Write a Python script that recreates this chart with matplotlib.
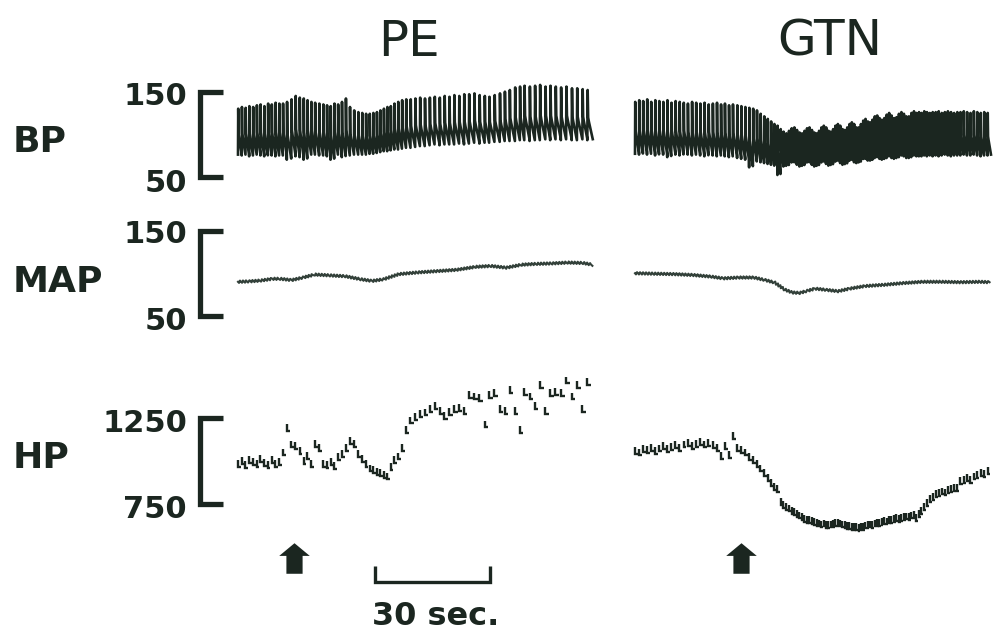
import numpy as np
import matplotlib
matplotlib.use("Agg")
import matplotlib.pyplot as plt
import matplotlib.transforms as mtransforms
from matplotlib.path import Path
from matplotlib.collections import LineCollection

# ---------------- data ----------------
PANELS = ["PE", "GTN"]
ROW_LABELS = ["BP", "MAP", "HP"]
BP_TICKS = [150, 50]      # mmHg
MAP_TICKS = [150, 50]     # mmHg
HP_TICKS = [1250, 750]    # ms
SCALE_SEC = 30
SCALE_LABEL = "30 sec."
SCALE_START_PE = 35.7     # s
ARROW_T = [14.6, 27.7]    # s, injection time PE / GTN

# heart period per beat (ms)
PE_HP = [967, 982, 958, 991, 977, 963, 996, 972, 958, 987, 967, 977,
         1033, 1179, 1080, 1071, 1043, 982, 1014, 967, 1085, 1061,
         967, 958, 977, 953, 1005, 1024, 1061, 1099, 1085, 1024, 996, 963,
         939, 930, 916, 911, 902, 892, 949, 991, 1010, 1061, 1165,
         1221, 1240, 1259, 1268, 1287, 1306, 1278, 1249, 1273,
         1287, 1296, 1278, 1372, 1362, 1353, 1198, 1372, 1381, 1287, 1278,
         1400, 1278, 1165, 1390, 1362, 1306, 1428, 1278, 1381, 1390, 1381,
         1456, 1362, 1428, 1287, 1447]
# systolic / diastolic pressure per beat (mmHg)
PE_SYS = [130, 132, 131, 133, 132, 134, 135, 133, 136, 135, 137, 136,
          136, 138, 141, 145, 143, 142, 140, 138, 137, 136,
          135, 134, 133, 136, 135, 138, 142, 132, 128, 126, 125, 124,
          124, 125, 126, 128, 130, 132, 133, 136, 138, 140, 141,
          141, 142, 143, 142, 143, 144, 143, 145, 144,
          146, 145, 147, 147, 148, 146, 145, 144, 146, 148, 150,
          152, 155, 156, 157, 156, 157, 158, 156, 157, 156, 155,
          156, 154, 154, 153, 152]
PE_DIA = [76, 75, 76, 74, 75, 76, 75, 74, 76, 75, 74, 75,
          75, 70, 75, 74, 73, 70, 75, 76, 76, 75,
          75, 74, 70, 75, 76, 73, 75, 75, 76, 76, 76, 76,
          77, 77, 78, 79, 80, 80, 81, 82, 82, 83, 84,
          84, 85, 86, 86, 87, 88, 87, 88, 88,
          88, 89, 88, 89, 90, 89, 90, 90, 91, 91, 92,
          92, 92, 93, 93, 92, 93, 93, 94, 93, 94, 93,
          94, 93, 93, 94, 93]

GTN_HP = [1043, 1033, 1052, 1047, 1061, 1043, 1057, 1071, 1052, 1066, 1076, 1061,
          1080, 1090, 1071, 1085, 1094, 1080, 1090, 1076, 1061, 1014, 1071, 1019,
          1132, 1061, 1047, 1033, 1005, 991,
          967, 939, 911, 883, 855, 831, 817,
          742, 723, 714, 704, 690, 681, 671, 662, 653, 643, 638, 634, 629,
          624, 620, 615, 610, 615, 608, 605, 610, 613, 620, 618, 615, 610, 605,
          601, 599, 596, 593, 596, 591, 593, 596,
          603, 605, 610, 608, 615, 620, 618, 624, 629, 627, 634, 638, 640, 646,
          643, 648, 653, 657, 655, 662, 667, 648,
          672, 690, 714, 737, 761, 770,
          789, 794, 803, 798, 812, 817, 826, 822,
          864, 869, 883, 873, 892, 902, 911, 906, 925]
GTN_SYS = [138, 140, 139, 141, 138, 140, 139, 138, 140, 137, 139, 138,
           137, 136, 138, 137, 136, 137, 135, 136, 137, 135, 136, 134,
           135, 134, 133, 132, 131, 130,
           128, 124, 121, 118, 115, 112, 110,
           106, 103, 101, 104, 107, 108, 105, 102, 101, 104, 107, 108, 105,
           102, 101, 104, 108, 110, 108, 104, 103, 106, 110, 112, 110, 106, 105,
           108, 112, 114, 112, 108, 108, 112, 116,
           118, 115, 114, 117, 121, 122, 119, 117, 119, 123, 125, 122, 119, 120,
           124, 126, 124, 121, 121, 125, 127, 125,
           126, 125, 127, 126, 125, 126,
           126, 127, 125, 126, 127, 126, 125, 126,
           126, 127, 126, 125, 127, 126, 125, 126, 125]
GTN_DIA = [77, 76, 78, 76, 77, 75, 77, 76, 73, 77, 76, 75,
           77, 76, 75, 76, 75, 74, 76, 75, 74, 75, 74, 73,
           74, 72, 71, 70, 61, 69,
           68, 67, 66, 65, 64, 63, 52,
           64, 62, 63, 66, 68, 67, 64, 62, 63, 66, 68, 67, 64,
           62, 63, 66, 68, 68, 65, 63, 64, 67, 69, 69, 66, 64, 65,
           68, 70, 70, 67, 66, 67, 70, 72,
           71, 69, 69, 71, 73, 73, 71, 70, 71, 73, 74, 72, 71, 72,
           74, 75, 74, 72, 72, 74, 75, 74,
           74, 74, 75, 74, 75, 74,
           75, 74, 75, 76, 75, 74, 75, 75,
           75, 76, 75, 75, 76, 75, 74, 75, 75]

# mean arterial pressure trace (time s, mmHg)
PE_MAP_T = [0, 3, 6, 9, 11, 14, 17, 20, 24, 28, 32, 35, 38, 42, 47, 52, 57,
            62, 66, 70, 74, 78, 82, 86, 90, 92.5]
PE_MAP = [90, 90.5, 91.5, 93.5, 93.5, 92, 95, 98.5, 97.5, 96.5, 93, 91, 93,
          99, 101, 102.5, 104, 107.5, 108.5, 106.5, 110, 111, 111.5, 112.5, 112, 110]
GTN_MAP_T = [0, 5, 10, 15, 20, 23, 27, 31, 34, 36.5, 39, 41, 43, 45, 47, 50,
             53, 56, 60, 65, 70, 75, 80, 85, 90, 92.5]
GTN_MAP = [100, 99.5, 99, 98, 96, 94, 95, 95, 92, 89, 81, 77.5, 77, 79.5, 82,
           80.5, 79, 82, 85, 86.5, 88.5, 90, 90, 89.5, 90, 89.5]

# ---------------- layout / style ----------------
W, H = 995, 631
INK = "#1b2620"
PX_PER_S = 115 / 30.0
COL_X0 = [238, 635]          # pixel of t = 0 in each column
COL_EXT = [(228, 612), (625, 995)]
ROWS = {  # axes pixel top/bottom and calibration (value_hi, px_hi, value_lo, px_lo)
    "BP": (50, 205, (BP_TICKS[0], 91.7, BP_TICKS[1], 176.7)),
    "MAP": (212, 340, (MAP_TICKS[0], 230.5, MAP_TICKS[1], 316.0)),
    "HP": (360, 548, (HP_TICKS[0], 418.5, HP_TICKS[1], 503.5)),
}

fig = plt.figure(figsize=(W / 100, H / 100), dpi=100)
fig.patch.set_facecolor("white")
ptrans = mtransforms.Affine2D().scale(1 / W, -1 / H).translate(0, 1) + fig.transFigure


def add_ax(x0, x1, yt, yb):
    ax = fig.add_axes([x0 / W, 1 - yb / H, (x1 - x0) / W, (yb - yt) / H])
    ax.set_axis_off()
    return ax


def set_cal(ax, yt, yb, cal):
    vh, ph, vl, pl = cal
    k = (vh - vl) / (pl - ph)
    ax.set_ylim(vl - (yb - pl) * k, vh + (ph - yt) * k)


def set_time(ax, c):
    x0, x1 = COL_EXT[c]
    ax.set_xlim((x0 - COL_X0[c]) / PX_PER_S, (x1 - COL_X0[c]) / PX_PER_S)


def beat_times(hp):
    hp = np.asarray(hp, float) / 1000.0
    t0 = np.concatenate([[0.0], np.cumsum(hp)[:-1]])
    return t0, hp


def draw_bp(ax, hp, sys_, dia):
    t0, dt = beat_times(hp)
    sys_ = np.asarray(sys_, float)
    dia = np.asarray(dia, float)
    st = np.array([0.0, 0.06, 0.15, 0.3, 0.98])
    sf = np.array([0.0, 1.0, 0.45, 0.36, 0.02])
    xs = (t0[:, None] + dt[:, None] * st[None, :]).ravel()
    ys = (dia[:, None] + (sys_ - dia)[:, None] * sf[None, :]).ravel()
    ax.plot(xs, ys, color=INK, lw=1.9, solid_joinstyle="round")


def draw_hp(ax, hp):
    t0, dt = beat_times(hp)
    v = np.asarray(hp, float)
    tick = 40.0
    segs = [[(t, y + tick), (t, y), (t + 0.7 * d, y)] for t, d, y in zip(t0, dt, v)]
    ax.add_collection(LineCollection(segs, colors=INK, linewidths=1.7,
                                     joinstyle="miter", capstyle="butt"))


def draw_map(ax, t, v):
    ln, = ax.plot(t, v, color="#33413a", lw=1.5)
    ln.set_sketch_params(scale=1.3, length=3.0, randomness=1.0)


data = [
    (PE_HP, PE_SYS, PE_DIA, PE_MAP_T, PE_MAP),
    (GTN_HP, GTN_SYS, GTN_DIA, GTN_MAP_T, GTN_MAP),
]

first_axes = {}
for c, (hp, s, d, mt, mv) in enumerate(data):
    x0, x1 = COL_EXT[c]
    for name, (yt, yb, cal) in ROWS.items():
        ax = add_ax(x0, x1, yt, yb)
        set_time(ax, c)
        set_cal(ax, yt, yb, cal)
        if name == "BP":
            draw_bp(ax, hp, s, d)
        elif name == "MAP":
            draw_map(ax, mt, mv)
        else:
            draw_hp(ax, hp)
        if c == 0:
            first_axes[name] = ax

# brackets and scale numbers
ticks = {"BP": BP_TICKS, "MAP": MAP_TICKS, "HP": HP_TICKS}
label_base = {"BP": 152, "MAP": 292, "HP": 468}
num_base = {"BP": (105, 192), "MAP": (243, 330), "HP": (432, 518)}
for name, ax in first_axes.items():
    tr = mtransforms.blended_transform_factory(ptrans, ax.transData)
    hi, lo = ticks[name]
    ax.plot([223, 200, 200, 223], [hi, hi, lo, lo], color=INK, lw=3.8,
            transform=tr, clip_on=False, solid_joinstyle="miter",
            solid_capstyle="butt")
    bh, bl = num_base[name]
    fig.text(187, bh, str(hi), transform=ptrans, ha="right", va="baseline",
             fontsize=22, fontweight="bold", color=INK)
    fig.text(187, bl, str(lo), transform=ptrans, ha="right", va="baseline",
             fontsize=22, fontweight="bold", color=INK)
    fig.text(13, label_base[name], name, transform=ptrans, ha="left",
             va="baseline", fontsize=26, fontweight="bold", color=INK)

# panel titles
for c, title in enumerate(PANELS):
    cx = [409, 830][c]
    fig.text(cx, 56, title, transform=ptrans, ha="center", va="baseline",
             fontsize=36, color=INK)

# event arrows and time scale
arrow = Path([(-1, 0.17), (0, 1), (1, 0.17), (0.53, 0.17), (0.53, -1),
              (-0.53, -1), (-0.53, 0.17), (-1, 0.17)],
             [Path.MOVETO] + [Path.LINETO] * 6 + [Path.CLOSEPOLY])
for c in range(2):
    x0, x1 = COL_EXT[c]
    ev = add_ax(x0, x1, 535, 631)
    set_time(ev, c)
    ev.set_ylim(631, 535)
    ev.plot([ARROW_T[c]], [558], marker=arrow, markersize=22, color=INK,
            markeredgewidth=0, linestyle="none")
    if c == 0:
        a, b = SCALE_START_PE, SCALE_START_PE + SCALE_SEC
        ev.plot([a, a, b, b], [566, 582, 582, 566], color=INK, lw=2.4,
                solid_joinstyle="miter", solid_capstyle="butt")
        fig.text(436, 625, SCALE_LABEL, transform=ptrans, ha="center",
                 va="baseline", fontsize=23, fontweight="bold", color=INK)

fig.savefig("out.png", dpi=100, facecolor="white")
